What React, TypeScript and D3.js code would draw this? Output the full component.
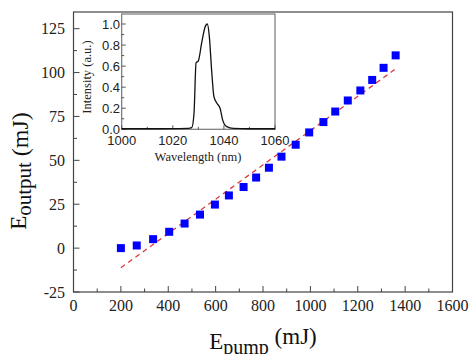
import React from "react";
import * as d3 from "d3";

// main plot: output energy vs pump energy
const pumpEnergy = [200, 267, 336, 404, 469, 534, 597, 656, 718, 771, 825, 878, 938, 995, 1055, 1105, 1158, 1211, 1261, 1309, 1360];
const outputEnergy = [0, 1.5, 5.1, 9.3, 14, 19.1, 24.8, 30, 34.8, 40.2, 45.8, 52.1, 58.9, 65.9, 71.8, 77.8, 84.1, 89.8, 95.8, 102.7, 109.8];
const fitX = [200, 1360];
const fitY = [-11.2, 102.1];
const xTicks = [0, 200, 400, 600, 800, 1000, 1200, 1400, 1600];
const yTicks = [-25, 0, 25, 50, 75, 100, 125];

// inset: spectrum
const wavelength = [1000, 1010, 1020, 1026, 1027.4, 1028.3, 1029.1, 1030, 1031.3, 1032.6, 1033.5, 1034.3, 1035.2, 1036.1, 1037.2, 1038.5, 1039.5, 1041.1, 1043.7, 1050, 1060];
const intensity = [0.005, 0.005, 0.006, 0.008, 0.015, 0.15, 0.63, 0.65, 0.82, 0.97, 1.0, 0.88, 0.56, 0.31, 0.25, 0.2, 0.09, 0.025, 0.008, 0.005, 0.005];
const insetXTicks = [1000, 1020, 1040, 1060];
const insetYTicks = [0, 0.2, 0.4, 0.6, 0.8, 1.0];

const serif = "'Liberation Serif', 'Times New Roman', serif";
const sans = "'Liberation Sans', Arial, sans-serif";

export default function App() {
  const m = { left: 73.5, right: 452.5, top: 12, bottom: 292 };
  const x = d3.scaleLinear().domain([0, 1600]).range([m.left, m.right]);
  const y = d3.scaleLinear().domain([-25, 134.5]).range([m.bottom, m.top]);

  const ins = { left: 121.7, right: 275, top: 14, bottom: 129.3 };
  const ix = d3.scaleLinear().domain([1000, 1060]).range([ins.left, ins.right]);
  const iy = d3.scaleLinear().domain([0, 1.095]).range([ins.bottom, ins.top]);

  const spectrum = d3
    .line<number>()
    .x((d, i) => ix(wavelength[i]))
    .y((d) => iy(d))
    .curve(d3.curveMonotoneX)(intensity);

  const xMinor = d3.range(100, 1600, 200);
  const yMinor = d3.range(-12.5, 134, 25);
  const ixMinor = d3.range(1010, 1060, 20);
  const iyMinor = d3.range(0.1, 1.05, 0.2);
  const sq = 8;

  return (
    <svg width={470} height={354} style={{ position: "fixed", left: 0, top: 0, background: "#fff" }}>
      <rect width={470} height={354} fill="#fff" />

      {/* main frame */}
      <rect x={m.left} y={m.top} width={m.right - m.left} height={m.bottom - m.top} fill="none" stroke="#444" strokeWidth={1.2} />

      {xTicks.map((t) => (
        <g key={"xt" + t}>
          <line x1={x(t)} x2={x(t)} y1={m.bottom} y2={m.bottom - 6} stroke="#444" />
          <text x={x(t)} y={311} textAnchor="middle" fontFamily={serif} fontSize={16} fill="#222">{t}</text>
        </g>
      ))}
      {xMinor.map((t) => (
        <line key={"xm" + t} x1={x(t)} x2={x(t)} y1={m.bottom} y2={m.bottom - 3.5} stroke="#444" />
      ))}
      {yTicks.map((t) => (
        <g key={"yt" + t}>
          <line x1={m.left} x2={m.left + 6} y1={y(t)} y2={y(t)} stroke="#444" />
          <text x={65} y={y(t) + 5.5} textAnchor="end" fontFamily={serif} fontSize={16} fill="#222">{t}</text>
        </g>
      ))}
      {yMinor.map((t) => (
        <line key={"ym" + t} x1={m.left} x2={m.left + 3.5} y1={y(t)} y2={y(t)} stroke="#444" />
      ))}

      {/* fit line */}
      <line x1={x(fitX[0])} y1={y(fitY[0])} x2={x(fitX[1])} y2={y(fitY[1])} stroke="#e0383c" strokeWidth={1.3} strokeDasharray="5,4" />

      {/* data squares */}
      {pumpEnergy.map((p, i) => (
        <rect key={"p" + i} x={x(p) - sq / 2} y={y(outputEnergy[i]) - sq / 2} width={sq} height={sq} fill="#0000ff" />
      ))}

      {/* axis titles */}
      <text x={263} y={349} textAnchor="middle" fontFamily={serif} fill="#111">
        <tspan fontSize={23}>E</tspan>
        <tspan fontSize={20} dy={5}>pump</tspan>
        <tspan fontSize={23} dy={-10}> (mJ)</tspan>
      </text>
      <text transform="translate(26,171) rotate(-90)" textAnchor="middle" fontFamily={serif} fill="#111">
        <tspan fontSize={23}>E</tspan>
        <tspan fontSize={21} dy={5}>output</tspan>
        <tspan fontSize={24} dy={-3}> (mJ)</tspan>
      </text>

      {/* inset */}
      <rect x={ins.left} y={ins.top} width={ins.right - ins.left} height={ins.bottom - ins.top} fill="#fff" stroke="#777" strokeWidth={1.2} />
      {insetXTicks.map((t) => (
        <g key={"ixt" + t}>
          <line x1={ix(t)} x2={ix(t)} y1={ins.bottom} y2={ins.bottom - 4} stroke="#555" />
          <text x={ix(t)} y={145} textAnchor="middle" fontFamily={sans} fontSize={13} fill="#222">{t}</text>
        </g>
      ))}
      {ixMinor.map((t) => (
        <line key={"ixm" + t} x1={ix(t)} x2={ix(t)} y1={ins.bottom} y2={ins.bottom - 2.5} stroke="#555" />
      ))}
      {insetYTicks.map((t) => (
        <g key={"iyt" + t}>
          <line x1={ins.left} x2={ins.left + 4} y1={iy(t)} y2={iy(t)} stroke="#555" />
          <text x={120} y={iy(t) + 4.5} textAnchor="end" fontFamily={sans} fontSize={13} fill="#222">{t.toFixed(1)}</text>
        </g>
      ))}
      {iyMinor.map((t) => (
        <line key={"iym" + t} x1={ins.left} x2={ins.left + 2.5} y1={iy(t)} y2={iy(t)} stroke="#555" />
      ))}
      <path d={spectrum ?? ""} fill="none" stroke="#111" strokeWidth={1.3} />
      <text x={198} y={161} textAnchor="middle" fontFamily={serif} fontSize={12.5} fill="#222">Wavelength (nm)</text>
      <text transform="translate(91,77) rotate(-90)" textAnchor="middle" fontFamily={serif} fontSize={12.5} fill="#222">Intensity (a.u.)</text>
    </svg>
  );
}
